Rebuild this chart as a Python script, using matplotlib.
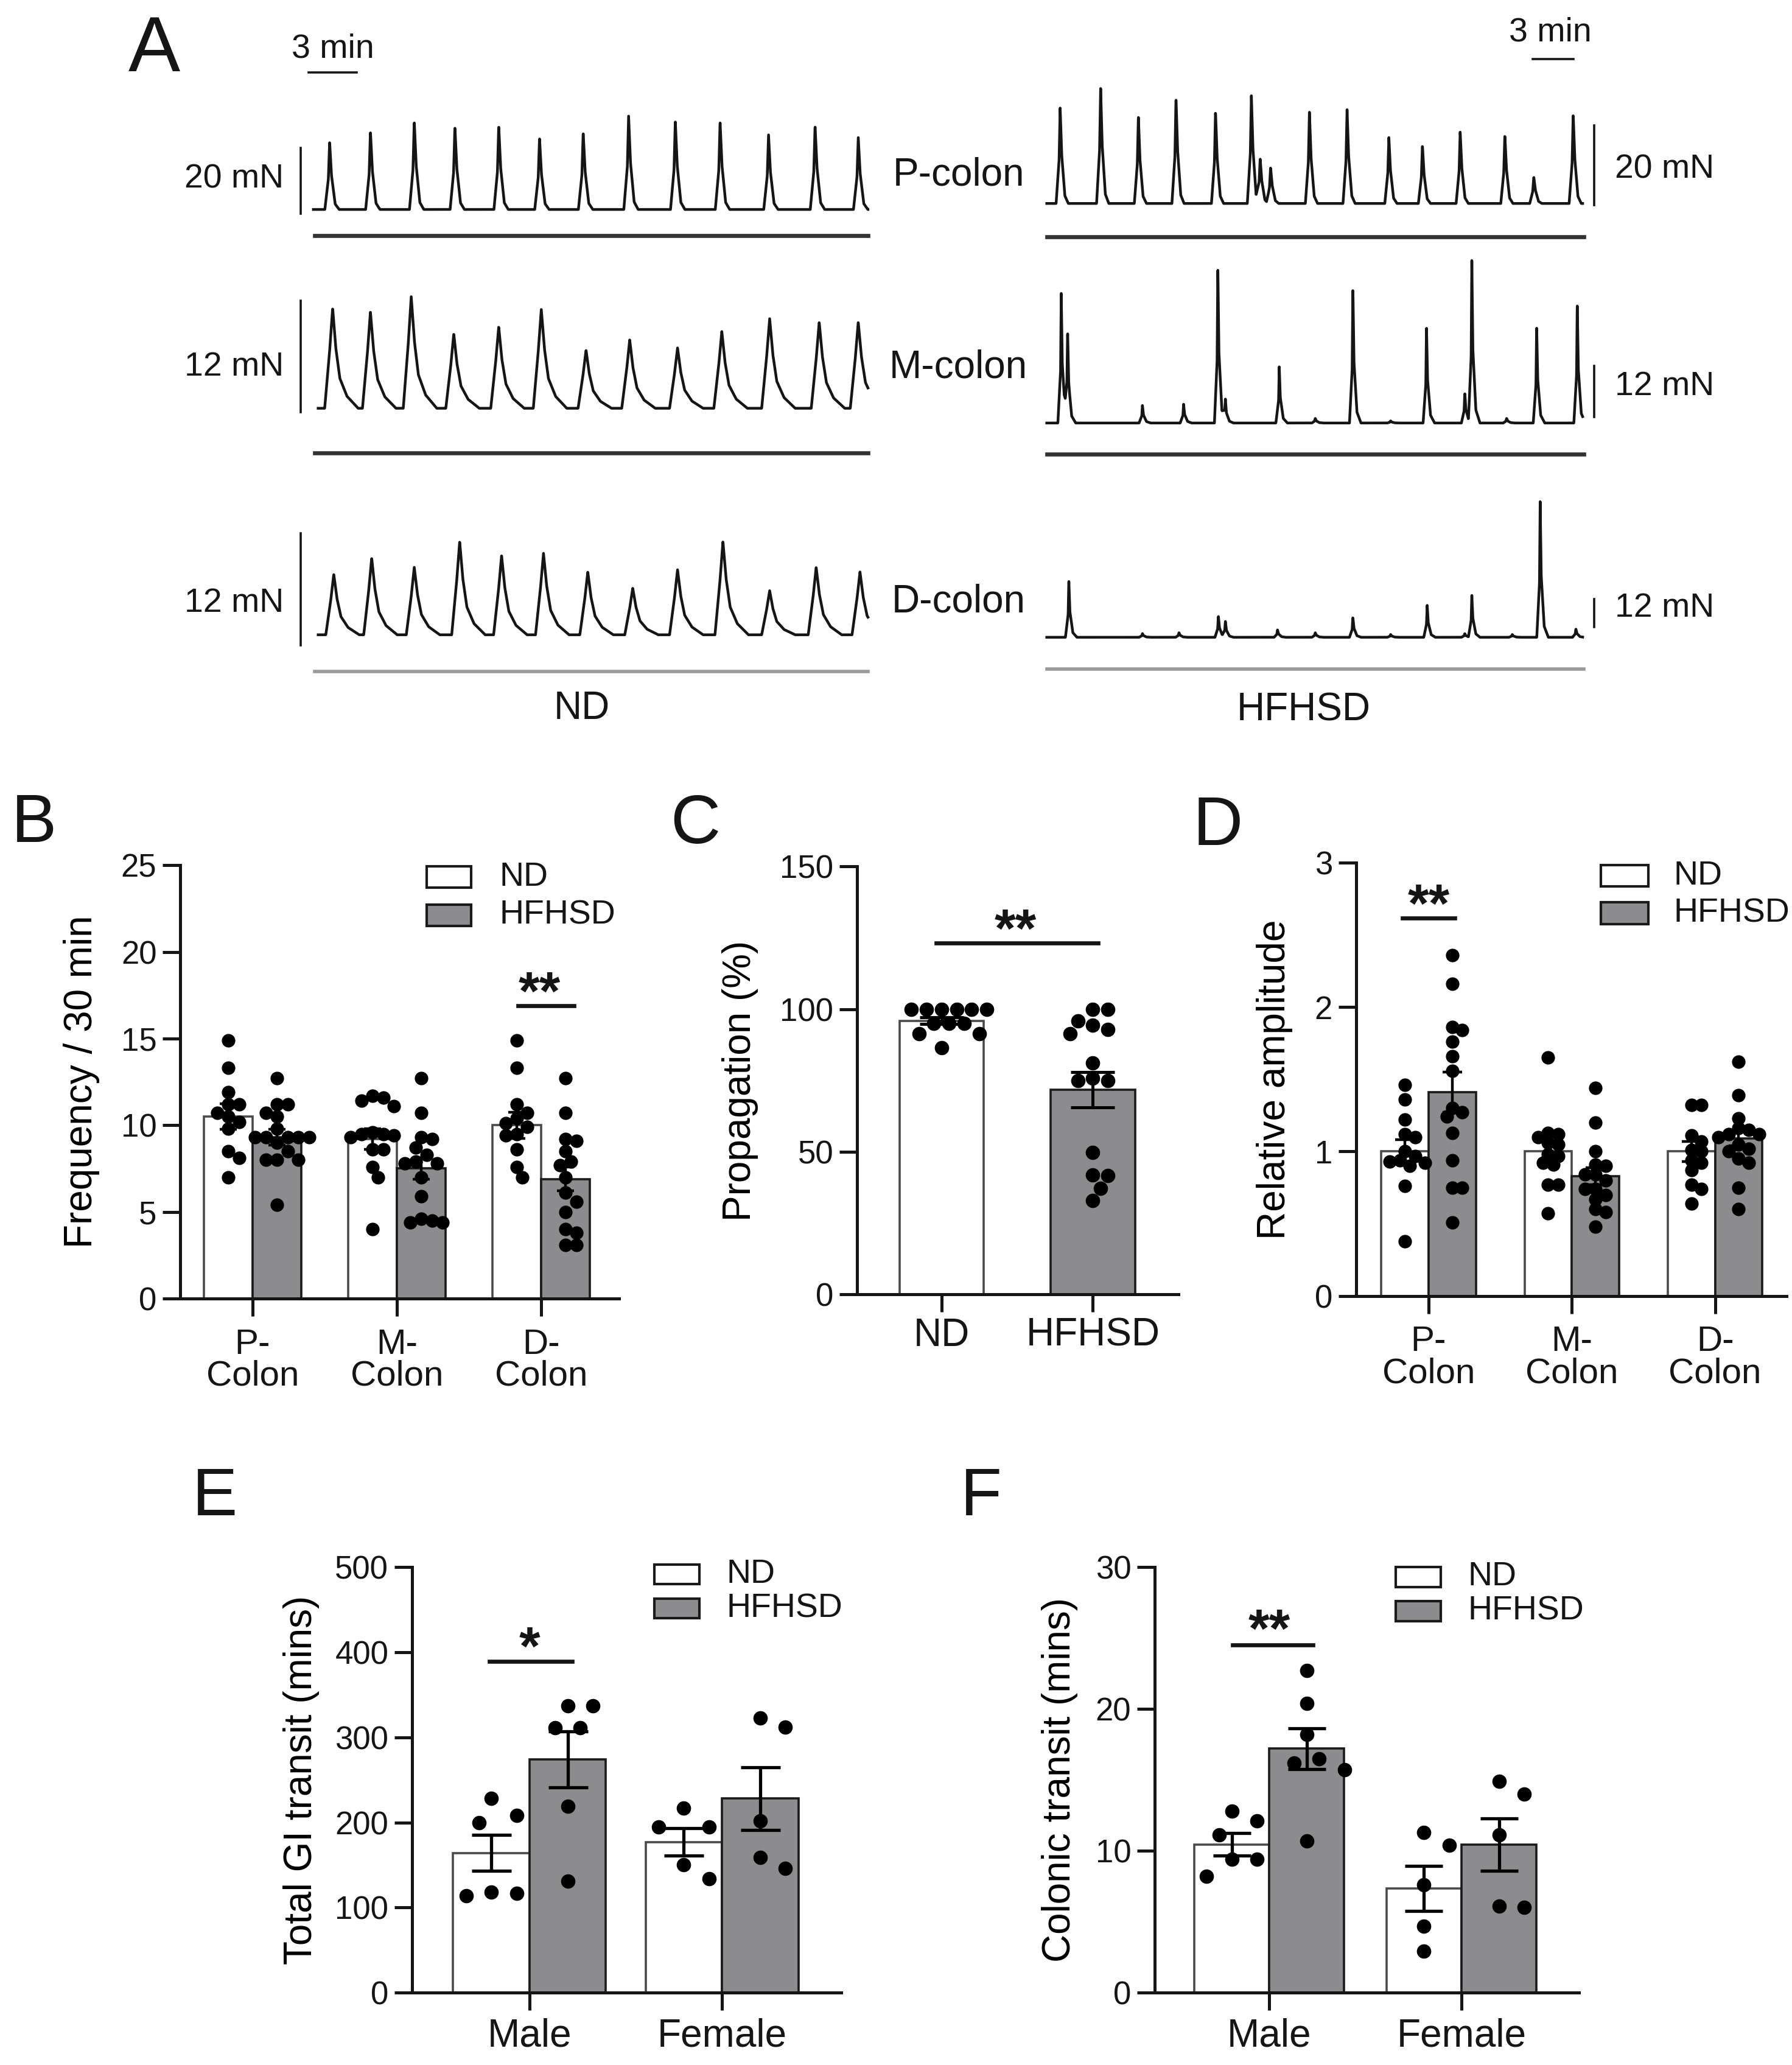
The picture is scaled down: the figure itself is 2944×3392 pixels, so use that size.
import numpy as np
import matplotlib.pyplot as plt
from matplotlib.patches import Rectangle

plt.rcParams['font.family'] = ['Liberation Sans', 'DejaVu Sans']
plt.rcParams['text.color'] = '#151515'

# ---------------- panel A: contraction recordings ----------------
# peak time (min) and peak amplitude (mN) of each contraction
nd_p_t = [1.02, 3.58, 6.33, 8.88, 11.63, 14.19, 16.93, 19.78, 22.71, 25.52, 28.56, 31.48, 34.19]
nd_p_a = [20.7, 24.0, 27.1, 25.4, 25.7, 21.9, 23.6, 28.6, 27.1, 26.9, 22.9, 25.7, 22.1]
nd_m_t = [1.21, 3.58, 6.14, 8.81, 11.63, 14.30, 17.11, 19.85, 22.85, 25.63, 28.63, 31.74, 34.19]
nd_m_a = [10.75, 10.35, 12.0, 8.0, 8.75, 10.65, 6.25, 7.35, 6.5, 8.25, 9.65, 9.25, 9.25]
nd_d_t = [1.28, 3.66, 6.33, 9.18, 11.81, 14.44, 17.22, 20.04, 22.85, 25.70, 28.63, 31.55, 34.30]
nd_d_a = [6.5, 8.25, 7.25, 10.0, 8.5, 8.75, 6.75, 5.0, 7.0, 10.0, 4.75, 7.25, 6.75]

hf_p_t = [0.99, 3.98, 6.77, 9.55, 12.47, 15.12, 15.77, 16.54, 19.41, 22.19, 25.28, 27.76, 30.55, 33.85, 35.99, 38.9]
hf_p_a = [24.1, 29.1, 22.0, 26.7, 23.2, 27.3, 11.4, 9.1, 23.2, 23.8, 16.7, 14.7, 18.1, 17.3, 6.7, 22.6]
hf_m_t = [1.07, 1.54, 7.07, 10.11, 12.64, 13.2, 17.18, 19.84, 22.62, 25.41, 28.06, 30.89, 31.41, 33.98, 36.2, 39.2]
hf_m_a = [30.5, 20.5, 4.1, 4.4, 37.1, 5.2, 13.2, 1.1, 32.0, 0.5, 22.7, 7.1, 38.0, 1.1, 22.7, 28.1]
hf_d_t = [1.63, 7.07, 9.77, 12.68, 13.2, 17.05, 19.84, 22.62, 25.41, 28.11, 30.89, 31.41, 34.4, 36.46, 39.1]
hf_d_a = [24.6, 1.6, 2.0, 9.2, 6.6, 3.2, 2.0, 8.6, 1.2, 14.0, 1.6, 18.0, 1.2, 58.6, 3.6]

segments = ['P-colon', 'M-colon', 'D-colon']
scale_mN = [20, 12, 12]

# ---------------- panel B: frequency / 30 min ----------------
freq_cats = ['P-\nColon', 'M-\nColon', 'D-\nColon']
freq_nd = [
    [14.9, 13.3, 11.9, 11.2, 11.2, 10.7, 10.5, 10.2, 9.8, 8.5, 8.1, 7.0],
    [11.7, 11.6, 11.4, 11.1, 9.6, 9.5, 9.5, 9.4, 9.3, 8.6, 8.6, 7.6, 7.0, 4.0],
    [14.9, 13.3, 11.2, 10.7, 10.4, 10.1, 9.9, 9.5, 9.4, 8.6, 7.6, 7.0],
]
freq_hf = [
    [12.7, 11.2, 11.2, 10.7, 10.5, 9.8, 9.3, 9.3, 9.3, 9.3, 9.3, 9.0, 8.5, 8.0, 8.0, 8.0, 5.4],
    [12.7, 10.7, 9.3, 9.2, 8.7, 8.3, 7.9, 7.8, 7.8, 7.0, 5.9, 4.4, 4.6, 4.4, 4.5],
    [12.7, 10.7, 9.2, 9.1, 8.5, 7.9, 7.7, 7.0, 6.1, 5.6, 5.0, 4.0, 3.8, 3.1, 3.1],
]
freq_mean_nd = [10.5, 9.2, 10.0]
freq_sem_nd = [0.75, 0.6, 0.75]
freq_mean_hf = [9.3, 7.5, 6.9]
freq_sem_hf = [0.45, 0.6, 0.7]

# ---------------- panel C: propagation (%) ----------------
prop_cats = ['ND', 'HFHSD']
prop_nd = [100, 100, 100, 100, 100, 100, 95, 95, 95, 91.5, 91.5, 86.5]
prop_hf = [100, 94.4, 91.5, 95.9, 100, 93, 81.2, 74.9, 74.9, 75.8, 49.8, 41.7, 42, 37.3, 32.9]
prop_mean = [96.0, 71.7]
prop_sem = [1.2, 6.2]

# ---------------- panel D: relative amplitude ----------------
amp_nd = [
    [1.46, 1.36, 1.22, 1.12, 1.10, 1.00, 0.97, 0.94, 0.93, 0.92, 0.90, 0.76, 0.38],
    [1.65, 1.13, 1.12, 1.10, 1.06, 1.05, 0.98, 0.97, 0.92, 0.91, 0.77, 0.77, 0.57],
    [1.32, 1.32, 1.11, 1.07, 1.01, 1.00, 0.94, 0.92, 0.87, 0.77, 0.74, 0.64],
]
amp_hf = [
    [2.36, 2.16, 1.86, 1.84, 1.76, 1.66, 1.56, 1.30, 1.27, 1.24, 1.13, 0.94, 0.75, 0.75, 0.51],
    [1.44, 1.20, 1.00, 0.91, 0.90, 0.84, 0.84, 0.80, 0.74, 0.74, 0.70, 0.67, 0.60, 0.58, 0.48],
    [1.62, 1.39, 1.23, 1.16, 1.15, 1.12, 1.12, 1.10, 1.05, 1.02, 1.00, 0.95, 0.92, 0.75, 0.60],
]
amp_mean_nd = [1.0, 1.0, 1.0]
amp_sem_nd = [0.08, 0.07, 0.07]
amp_mean_hf = [1.41, 0.83, 1.09]
amp_sem_hf = [0.14, 0.06, 0.05]

# ---------------- panel E: total GI transit (mins) ----------------
sex_cats = ['Male', 'Female']
gi_nd = [[228, 208, 200, 114, 118, 117], [217, 195, 195, 150, 134]]
gi_hf = [[337, 337, 311, 311, 219, 131], [323, 312, 202, 146, 159]]
gi_mean_nd = [164, 177]
gi_sem_nd = [21, 16]
gi_mean_hf = [274, 228]
gi_sem_hf = [33, 37]

# ---------------- panel F: colonic transit (mins) ----------------
col_nd = [[12.8, 12.1, 11.1, 9.4, 9.4, 8.2], [11.3, 10.4, 7.6, 4.7, 2.9]]
col_hf = [[22.7, 20.4, 18.2, 16.5, 16.2, 15.7, 10.7], [14.9, 14.0, 11.1, 6.0, 6.1]]
col_mean_nd = [10.45, 7.35]
col_sem_nd = [0.8, 1.6]
col_mean_hf = [17.2, 10.45]
col_sem_hf = [1.45, 1.85]


W, H = 1361.0, 1568.0
GRAY = '#8c8c8e'
INK = '#151515'

fig = plt.figure(figsize=(14.72, 16.96), dpi=200)


def rect(x0, y0, x1, y1):
    # layout box in reference pixels (origin top left) -> figure fraction
    return [x0 / W, 1 - y1 / H, (x1 - x0) / W, (y1 - y0) / H]


def ftext(x, y, s, **kw):
    fig.text(x / W, 1 - y / H, s, **kw)


# contraction shapes: (time offset in min, fraction of peak)
spike_shape = ([-0.3, -0.08, 0, 0.12, 0.35, 0.6], [0, 0.45, 1, 0.5, 0.08, 0])
wave_shape = ([-0.5, -0.2, 0, 0.2, 0.45, 0.9, 1.6], [0, 0.55, 1, 0.6, 0.3, 0.12, 0])
sharp_shape = ([-0.25, -0.05, 0, 0.08, 0.3, 0.6], [0, 0.4, 1, 0.45, 0.08, 0])


def trace_axes(x0, x1, y0, y1, tmax, ylo, yhi):
    ax = fig.add_axes(rect(x0, y0, x1, y1))
    ax.set_xlim(0, tmax)
    ax.set_ylim(ylo, yhi)
    ax.axis('off')
    return ax


def draw_trace(ax, times, amps, shape, t0, t1):
    kt, ky = shape
    t = np.linspace(t0, t1, 4000)
    y = np.zeros_like(t)
    for tp, a in zip(times, amps):
        y += a * np.interp(t - tp, kt, ky, left=0, right=0)
    ax.plot(t, y, color=INK, lw=1.6, clip_on=False)


# left (ND) traces
ax_lp = trace_axes(238, 658, 80, 165, 34.7, -2.4, 31.9)
ax_lm = trace_axes(238, 658, 215, 318, 34.7, -1.13, 13.44)
ax_ld = trace_axes(238, 658, 400, 490, 34.7, -1.13, 11.6)
# right (HFHSD) traces
ax_rp = trace_axes(795, 1202, 60, 165, 39.6, -3.49, 31.4)
ax_rm = trace_axes(795, 1202, 190, 330, 39.6, -2.71, 40.4)
ax_rd = trace_axes(795, 1202, 370, 495, 39.6, -6.27, 64.4)

draw_trace(ax_lp, nd_p_t, nd_p_a, spike_shape, 0, 34.8)
draw_trace(ax_lm, nd_m_t, nd_m_a, wave_shape, 0.3, 34.8)
draw_trace(ax_ld, nd_d_t, nd_d_a, wave_shape, 0.3, 34.8)
draw_trace(ax_rp, hf_p_t, hf_p_a, spike_shape, 0, 39.6)
draw_trace(ax_rm, hf_m_t, hf_m_a, sharp_shape, 0, 39.6)
draw_trace(ax_rd, hf_d_t, hf_d_a, sharp_shape, 0, 39.6)

# vertical force scale bars, labels and separating lines
left_bars = [(ax_lp, -1.2, 9.2, -8.06), (ax_lm, -0.42, 4.4, -4.8), (ax_ld, -1.13, 3.4, -3.96)]
for (ax, yb, ytxt, yline), mN, i in zip(left_bars, scale_mN, range(3)):
    ax.plot([-0.8, -0.8], [yb, yb + mN], color=INK, lw=1.3, clip_on=False)
    ax.text(-1.85, ytxt, f'{mN} mN', ha='right', va='center', fontsize=20)
    lc, lw = ('#9a9a9a', 2.0) if i == 2 else ('#333333', 2.4)
    ax.plot([0.1, 34.8], [yline, yline], color=lc, lw=lw, clip_on=False)

right_bars = [(ax_rp, -0.37, 8.5, -8.48), (ax_rm, 1.42, 8.5, -7.34), (ax_rd, 4.47, 12.5, -13.6)]
for (ax, yb, ytxt, yline), mN, i in zip(right_bars, scale_mN, range(3)):
    ax.plot([40.47, 40.47], [yb, yb + mN], color=INK, lw=1.3, clip_on=False)
    ax.text(42.0, ytxt, f'{mN} mN', ha='left', va='center', fontsize=20)
    lc, lw = ('#9a9a9a', 2.0) if i == 2 else ('#333333', 2.4)
    ax.plot([0, 39.67], [yline, yline], color=lc, lw=lw, clip_on=False)

# 3 min time bars
ax_lp.plot([-0.29, 2.71], [42.0, 42.0], color=INK, lw=1.3, clip_on=False)
ax_lp.text(1.24, 49.2, '3 min', ha='center', va='center', fontsize=20)
ax_rp.plot([35.9, 38.9], [36.4, 36.4], color=INK, lw=1.3, clip_on=False)
ax_rp.text(37.2, 43.1, '3 min', ha='center', va='center', fontsize=20)

for name, y in zip(segments, [133, 279, 457]):
    ftext(728, y, name, ha='center', va='center', fontsize=23)
ftext(442, 538, 'ND', ha='center', va='center', fontsize=23)
ftext(990, 539, 'HFHSD', ha='center', va='center', fontsize=23)

# panel letters
for letter, x, y, fs in [('A', 117, 39, 46), ('B', 26, 626, 40), ('C', 528, 627, 41),
                         ('D', 925, 628, 41), ('E', 163, 1137, 40), ('F', 745, 1137, 40)]:
    ftext(x, y, letter, ha='center', va='center', fontsize=fs)


# ---------------- bar charts ----------------
def swarm(ax, x, vals, dot_pt, sep):
    d = dot_pt * fig.dpi / 72 * sep
    ys = ax.transData.transform(np.column_stack([np.full(len(vals), x), vals]))[:, 1]
    order = np.argsort(-np.asarray(vals), kind='stable')
    cands = [0.0]
    for j in range(1, 30):
        cands += [0.5 * j, -0.5 * j]
    placed = []
    offs = np.zeros(len(vals))
    for i in order:
        for c in cands:
            ox = c * d
            if all((ox - px) ** 2 + (ys[i] - py) ** 2 >= (0.97 * d) ** 2 for px, py in placed):
                break
        placed.append((ox, ys[i]))
        offs[i] = ox
    sx = ax.transData.transform([(1, 0)])[0, 0] - ax.transData.transform([(0, 0)])[0, 0]
    return offs / sx


def setup_axes(box, xlim, ylim, yticks, cats, cat_fs, ylabel, label_x, xpad):
    ax = fig.add_axes(rect(*box))
    ax.set_xlim(*xlim)
    ax.set_ylim(*ylim)
    for s in ['top', 'right']:
        ax.spines[s].set_visible(False)
    for s in ['left', 'bottom']:
        ax.spines[s].set_linewidth(1.8)
        ax.spines[s].set_color(INK)
    ax.set_yticks(yticks)
    ax.set_xticks(range(1, len(cats) + 1))
    ax.set_xticklabels(cats, fontsize=cat_fs, linespacing=0.95)
    ax.tick_params(axis='y', direction='out', length=10.5, width=1.8, labelsize=19, pad=3.5, colors=INK)
    ax.tick_params(axis='x', direction='out', length=10.5, width=1.8, pad=xpad, colors=INK)
    ax.set_ylabel(ylabel, fontsize=23, va='center')
    ax.yaxis.set_label_coords(label_x, 0.5)
    return ax


def draw_bars(ax, xs, means, sems, fills, points, width, dot_pt, sep, capsize, elw):
    for x, m, fc in zip(xs, means, fills):
        ec = '#1a1a1a' if fc == GRAY else '#4a4a4a'
        ax.bar(x, m, width=width, color=fc, edgecolor=ec, linewidth=1.3, zorder=1)
    for x, p in zip(xs, points):
        offs = swarm(ax, x, p, dot_pt, sep)
        ax.scatter(x + offs, p, s=dot_pt ** 2, color='black', linewidths=0, zorder=3, clip_on=False)
    for x, m, s in zip(xs, means, sems):
        ax.errorbar(x, m, yerr=s, color='black', capsize=capsize, elinewidth=elw,
                    capthick=elw, zorder=4)


def signif(ax, x0, x1, yline, xstar, ystar, stars, fs=32):
    ax.plot([x0, x1], [yline, yline], color=INK, lw=2.4, clip_on=False)
    ax.annotate(stars, xy=(xstar, ystar), xytext=(0, -0.58 * fs), textcoords='offset points',
                ha='center', va='baseline', fontsize=fs, fontweight='bold')


def box_legend(ax, x0, x1, y_nd, y_hf, h, tx, fs=20):
    for yc, fc, lab in [(y_nd, 'white', 'ND'), (y_hf, GRAY, 'HFHSD')]:
        ax.add_patch(Rectangle((x0, yc - h / 2), x1 - x0, h, transform=ax.transAxes,
                               facecolor=fc, edgecolor='#1a1a1a', lw=1.5, clip_on=False))
        ax.text(tx, yc, lab, transform=ax.transAxes, va='center', ha='left', fontsize=fs)


def grouped(ax, nd_pts, hf_pts, m_nd, s_nd, m_hf, s_hf, width, dot_pt, sep, capsize, elw):
    n = len(m_nd)
    xs_nd = [i + 1 - width / 2 for i in range(n)]
    xs_hf = [i + 1 + width / 2 for i in range(n)]
    draw_bars(ax, xs_nd + xs_hf, list(m_nd) + list(m_hf), list(s_nd) + list(s_hf),
              ['white'] * n + [GRAY] * n, list(nd_pts) + list(hf_pts),
              width, dot_pt, sep, capsize, elw)


# B
axB = setup_axes((137, 657, 470, 986), (0.5, 3.54), (0, 25), [0, 5, 10, 15, 20, 25],
                 freq_cats, 21, 'Frequency / 30 min', -0.225, 7)
grouped(axB, freq_nd, freq_hf, freq_mean_nd, freq_sem_nd, freq_mean_hf, freq_sem_hf,
        0.338, 8.0, 0.8, 5, 1.6)
signif(axB, 2.84, 3.23, 16.9, 2.99, 18.5, '**')
box_legend(axB, 0.5616, 0.6637, 0.9725, 0.8845, 0.049, 0.727)

# C
axC = setup_axes((651, 658, 895, 983), (0.443, 2.565), (0, 150), [0, 50, 100, 150],
                 prop_cats, 23, 'Propagation (%)', -0.365, 3)
draw_bars(axC, [1, 2], prop_mean, prop_sem, ['white', GRAY], [prop_nd, prop_hf],
          0.556, 8.5, 1.05, 13, 1.8)
signif(axC, 0.965, 2.035, 123.3, 1.49, 133, '**')

# D
axD = setup_axes((1030, 655, 1357, 984), (0.495, 3.5), (0, 3), [0, 1, 2, 3],
                 freq_cats, 21, 'Relative amplitude', -0.19, 7)
grouped(axD, amp_nd, amp_hf, amp_mean_nd, amp_sem_nd, amp_mean_hf, amp_sem_hf,
        0.33, 8.0, 0.75, 5.7, 1.6)
signif(axD, 0.817, 1.183, 2.615, 1.0, 2.81, '**')
box_legend(axD, 0.569, 0.679, 0.9695, 0.883, 0.05, 0.737)

# E
axE = setup_axes((313, 1190, 639, 1513), (0.39, 2.62), (0, 500), [0, 100, 200, 300, 400, 500],
                 sex_cats, 23, 'Total GI transit (mins)', -0.258, 4.5)
grouped(axE, gi_nd, gi_hf, gi_mean_nd, gi_sem_nd, gi_mean_hf, gi_sem_hf,
        0.397, 8.5, 1.75, 11.7, 1.9)
signif(axE, 0.79, 1.22, 389, 1.0, 423, '*')
box_legend(axE, 0.564, 0.669, 0.983, 0.9025, 0.046, 0.733)

# F
axF = setup_axes((877, 1190, 1199, 1513), (0.404, 2.61), (0, 30), [0, 10, 20, 30],
                 sex_cats, 23, 'Colonic transit (mins)', -0.224, 4.5)
grouped(axF, col_nd, col_hf, col_mean_nd, col_sem_nd, col_mean_hf, col_sem_hf,
        0.39, 8.5, 1.75, 11, 1.9)
signif(axF, 0.81, 1.226, 24.5, 1.0, 26.6, '**')
box_legend(axF, 0.568, 0.674, 0.977, 0.8965, 0.048, 0.739)

fig.savefig('out.png', dpi=200, facecolor='white')
